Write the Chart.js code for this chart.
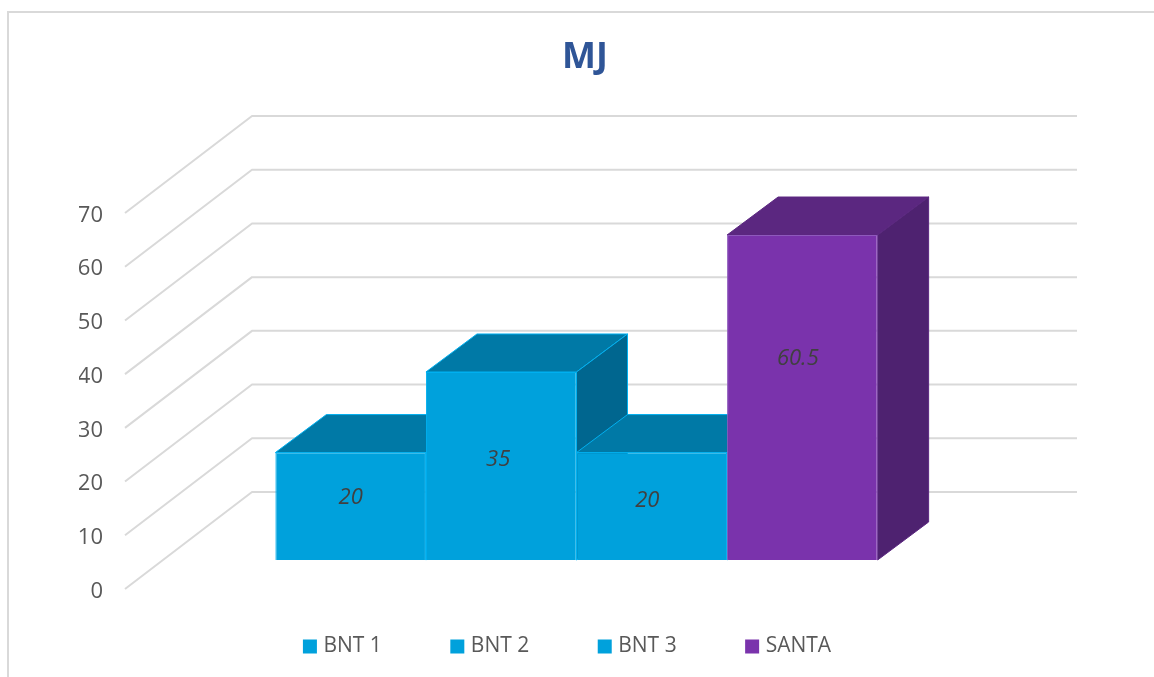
<!DOCTYPE html>
<html>
<head>
<meta charset="utf-8">
<style>html,body{margin:0;padding:0;background:#fff}canvas{display:block}</style>
<script src="https://cdn.jsdelivr.net/npm/chart.js@4"></script>
</head>
<body>
<canvas id="c" width="1154" height="677"></canvas>
<script>
const categories = ['MJ'];
const seriesNames = ['BNT 1', 'BNT 2', 'BNT 3', 'SANTA'];
const seriesValues = [20, 35, 20, 60.5];
const tickValues = [0, 10, 20, 30, 40, 50, 60, 70];
const frontColors = ['#00A1DC', '#00A1DC', '#00A1DC', '#7A33AC'];
const topColors = ['#0079A6', '#0079A6', '#0079A6', '#5B2780'];
const sideColors = ['#00668F', '#00668F', '#00668F', '#4E2270'];
const edgeColors = ['#00B0F0', '#00B0F0', '#00B0F0', '#8E59BC'];
const depthEdgeColors = ['#00B0F0', '#00B0F0', '#00B0F0', '#5B2780'];
const labelHeightShare = [0.59, 0.54, 0.565, 0.625];
const labelWidthShare = [0.5, 0.48, 0.47, 0.47];

const wallDepth = {x: 127, y: 97};
const barInset = {x: 39, y: 29};
const barDepth = {x: 51, y: 38};
const gridColor = '#D9D9D9';
const textColor = '#595959';
const fontFamily = '"Open Sans", sans-serif';

function poly(ctx, pts, fill, stroke) {
  ctx.beginPath();
  pts.forEach((p, i) => i ? ctx.lineTo(p[0], p[1]) : ctx.moveTo(p[0], p[1]));
  ctx.closePath();
  ctx.fillStyle = fill;
  ctx.fill();
  ctx.strokeStyle = stroke;
  ctx.lineWidth = 1;
  ctx.stroke();
}

const scene3d = {
  id: 'scene3d',
  afterLayout(chart) {
    const lg = chart.legend;
    lg.top = 647 - 11 - lg.options.labels.padding;
    lg.bottom = 677;
    lg.left += 35;
    lg.right += 35;
    const t = chart.titleBlock;
    t.left += 51;
    t.right += 51;
    t.top += 2;
    t.bottom += 2;
  },
  beforeDraw(chart) {
    const ctx = chart.ctx;
    ctx.save();
    ctx.strokeStyle = gridColor;
    ctx.lineWidth = 2;
    ctx.beginPath();
    ctx.moveTo(8, 677);
    ctx.lineTo(8, 12);
    ctx.lineTo(1154, 12);
    ctx.stroke();
    ctx.restore();
  },
  beforeDatasetsDraw(chart) {
    const ctx = chart.ctx;
    const area = chart.chartArea;
    const y = chart.scales.y;
    const fx = area.left - barInset.x;
    const bx = fx + wallDepth.x;
    const rx = area.right - barInset.x + wallDepth.x;
    ctx.save();
    ctx.strokeStyle = gridColor;
    ctx.lineWidth = 2;
    ctx.lineJoin = 'round';
    tickValues.forEach(v => {
      const py = y.getPixelForValue(v);
      ctx.beginPath();
      ctx.moveTo(fx, py);
      ctx.lineTo(bx, py - wallDepth.y);
      ctx.lineTo(rx, py - wallDepth.y);
      ctx.stroke();
    });
    seriesValues.forEach((_, i) => {
      const el = chart.getDatasetMeta(i).data[0];
      const l = el.x - el.width / 2, r = el.x + el.width / 2;
      const t = el.y, b = el.base;
      const dx = barDepth.x, dy = barDepth.y;
      poly(ctx, [[l, t], [l + dx, t - dy], [r + dx, t - dy], [r, t]], topColors[i], depthEdgeColors[i]);
      poly(ctx, [[r, t], [r + dx, t - dy], [r + dx, b - dy], [r, b]], sideColors[i], depthEdgeColors[i]);
      el.draw(ctx);
    });
    ctx.fillStyle = '#404040';
    ctx.font = 'italic 22px ' + fontFamily;
    ctx.textAlign = 'center';
    ctx.textBaseline = 'middle';
    seriesValues.forEach((v, i) => {
      const el = chart.getDatasetMeta(i).data[0];
      const lx = el.x - el.width / 2 + el.width * labelWidthShare[i];
      const ly = el.base + (el.y - el.base) * labelHeightShare[i];
      ctx.fillText(String(v), lx, ly + 1.5);
    });
    ctx.restore();
    return false;
  }
};

new Chart(document.getElementById('c'), {
  type: 'bar',
  data: {
    labels: categories,
    datasets: seriesNames.map((name, i) => ({
      label: name,
      data: [seriesValues[i]],
      backgroundColor: frontColors[i],
      borderColor: edgeColors[i],
      borderWidth: 1,
      yAxisID: 'yBars',
      categoryPercentage: 0.73,
      barPercentage: 1
    }))
  },
  plugins: [scene3d],
  options: {
    responsive: false,
    animation: false,
    layout: {padding: {left: 79, right: 165, top: 0, bottom: 87}},
    scales: {
      x: {display: false},
      y: {
        min: 0,
        max: 70,
        position: 'left',
        afterFit(s) { s.width = 85; },
        afterBuildTicks(s) { s.ticks = tickValues.map(value => ({value})); },
        grid: {display: false, drawTicks: false},
        border: {display: false},
        ticks: {color: textColor, padding: 61, labelOffset: 2.5, font: {family: fontFamily, size: 22}}
      },
      yBars: {display: false, min: -5.4, max: 64.6}
    },
    plugins: {
      title: {
        display: true,
        text: 'MJ',
        color: '#2F5597',
        font: {family: fontFamily, size: 36, weight: 'bold'},
        padding: {top: 34.4, bottom: 135.4}
      },
      legend: {
        position: 'bottom',
        align: 'center',
        maxHeight: 1,
        labels: {
          color: textColor,
          font: {family: fontFamily, size: 21},
          boxWidth: 6,
          boxHeight: 6,
          padding: 72.5,
          generateLabels(chart) {
            return chart.data.datasets.map((d, i) => ({
              text: d.label,
              fillStyle: frontColors[i],
              strokeStyle: frontColors[i],
              lineWidth: 8,
              fontColor: textColor,
              datasetIndex: i,
              hidden: false
            }));
          }
        }
      },
      tooltip: {enabled: false}
    }
  }
});
</script>
</body>
</html>
